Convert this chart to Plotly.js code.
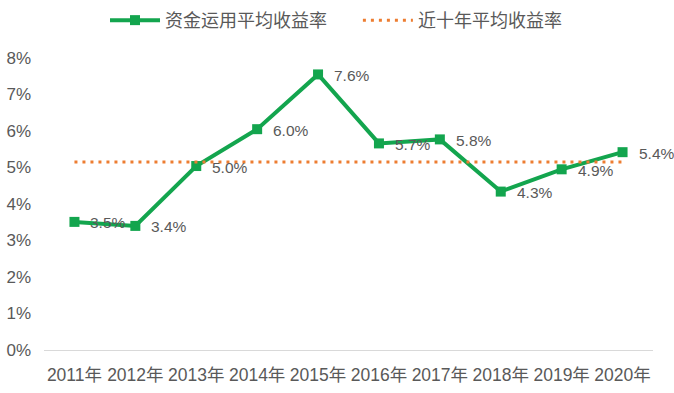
<!DOCTYPE html>
<html><head><meta charset="utf-8">
<script src="https://cdn.plot.ly/plotly-3.0.1.min.js"></script>
<style>html,body{margin:0;padding:0;background:#fff}#chart{width:674px;height:393px}</style>
</head><body><div id="chart"></div>
<script>
const years = ['2011年','2012年','2013年','2014年','2015年','2016年','2017年','2018年','2019年','2020年'];
const returns = [3.51, 3.40, 5.04, 6.05, 7.55, 5.66, 5.77, 4.34, 4.95, 5.42];
const returnLabels = ['3.5%','3.4%','5.0%','6.0%','7.6%','5.7%','5.8%','4.3%','4.9%','5.4%'];
const avg10 = [5.15, 5.15, 5.15, 5.15, 5.15, 5.15, 5.15, 5.15, 5.15, 5.15];
const yTicks = [0,1,2,3,4,5,6,7,8];
const yTickLabels = ['0%','1%','2%','3%','4%','5%','6%','7%','8%'];

const font = "'Liberation Sans Narrow', 'Liberation Sans', 'Noto Sans CJK SC', sans-serif";
const data = [
  {x: years, y: returns, type:'scatter', mode:'lines+markers', name:'资金运用平均收益率', legend:'legend',
   line:{color:'#13A54E', width:4}, marker:{symbol:'square', size:10, color:'#13A54E'}},
  {x: years, y: avg10, type:'scatter', mode:'lines', name:'近十年平均收益率', legend:'legend2',
   line:{color:'#ED7D31', width:3, dash:'3px,5px'}}
];
const annotations = years.map((yr, i) => ({
  x: yr, y: returns[i], text: returnLabels[i], showarrow:false,
  xanchor:'left', yanchor:'middle', xshift:14, yshift:-1,
  font:{size:15.5, color:'#595959', family:font}
}));
const legFont = {size:18, color:'#595959', family:"'Noto Sans CJK SC', sans-serif"};
const layout = {
  width:674, height:393, margin:{l:44, r:21, t:58, b:43},
  paper_bgcolor:'#fff', plot_bgcolor:'#fff',
  font:{family:font, color:'#595959', size:16},
  showlegend:true, annotations: annotations,
  legend:{orientation:'h', xref:'container', x:0.1558, xanchor:'left', yref:'container', y:0.948, yanchor:'middle',
          font:legFont, itemwidth:50},
  legend2:{orientation:'h', xref:'container', x:0.531, xanchor:'left', yref:'container', y:0.948, yanchor:'middle',
          font:legFont, itemwidth:50},
  xaxis:{type:'category', range:[-0.5, 9.5], automargin:false, showgrid:false, zeroline:false, showline:false, ticks:'', tickfont:{size:17.5, color:'#595959'}, ticklabelstandoff:12},
  yaxis:{range:[0,8], automargin:false, tickvals:yTicks, ticktext:yTickLabels, showgrid:false, zeroline:true, zerolinecolor:'#D9D9D9', zerolinewidth:1, tickfont:{size:17, color:'#595959'}, ticks:'', ticklabelstandoff:12}
};
Plotly.newPlot('chart', data, layout, {displayModeBar:false, staticPlot:true});
</script></body></html>
